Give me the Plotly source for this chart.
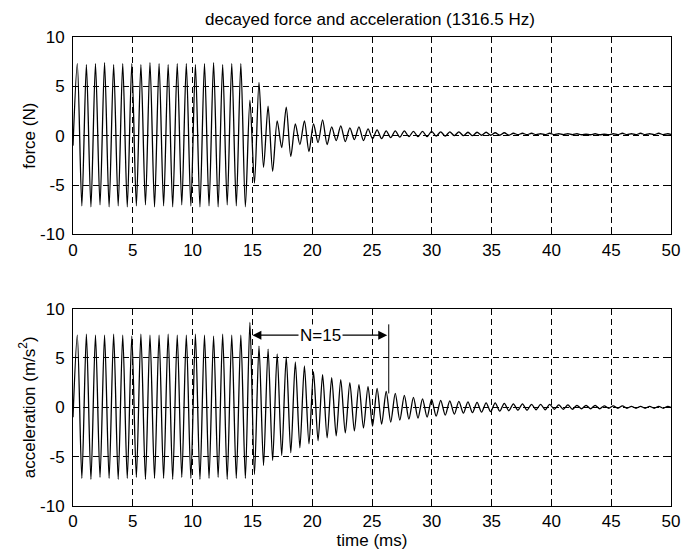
import plotly.graph_objects as go
from plotly.subplots import make_subplots

# ---------------- data ----------------
freq_hz = 1316.5
first_peak_ms = 0.36
start_value_force = -1.0
start_value_accel = -1.0

# positive peaks (one per cycle) and negative peaks (half a cycle later)
force_max = [7.3, 7.2, 7.3, 7.4, 7.2, 7.3, 7.3, 7.2, 7.4, 7.3, 7.2, 7.3, 7.3, 7.2, 7.3, 7.4, 7.2, 7.3, 7.3,
             3.6, 5.4, 3.0, 1.5, 2.9, 1.2, 1.5, 1.2, 1.6, 0.9,
             1.0, 0.8, 0.9, 0.7, 0.6, 0.5, 0.5, 0.5, 0.45, 0.45,
             0.45, 0.4, 0.4, 0.4, 0.35, 0.35, 0.35, 0.3, 0.3, 0.25,
             0.25, 0.25, 0.2, 0.25, 0.2, 0.2, 0.2, 0.15, 0.2, 0.15,
             0.2, 0.25, 0.2, 0.25, 0.2, 0.25, 0.2]
force_min = [-7.1, -7.2, -7.0, -7.2, -7.1, -7.2, -7.1, -7.0, -7.2, -7.1, -7.2, -7.0, -7.1, -7.2, -7.1, -7.2, -7.0, -7.1, -7.2,
             -4.8, -3.2, -3.6, -1.2, -2.1, -0.9, -1.6, -0.7, -0.9, -0.5,
             -0.6, -0.4, -0.5, -0.3, -0.3, -0.2, -0.15, -0.1, -0.1, -0.1,
             -0.05, -0.05, 0.0, 0.0, 0.0, 0.05, 0.05, 0.05, 0.05, 0.1,
             0.1, 0.1, 0.1, 0.1, 0.1, 0.1, 0.1, 0.1, 0.1, 0.1,
             0.1, 0.1, 0.1, 0.1, 0.1, 0.1, 0.1]
accel_max = [7.3, 7.4, 7.3, 7.3, 7.4, 7.3, 7.2, 7.4, 7.3, 7.3, 7.4, 7.3, 7.3, 7.4, 7.3, 7.2, 7.4, 7.3, 7.3,
             8.6, 6.2, 5.9, 5.4, 5.1, 4.6, 4.2, 3.6, 3.3, 3.0,
             2.8, 2.5, 2.3, 2.1, 1.9, 1.6, 1.4, 1.2, 1.0, 0.85,
             0.8, 0.7, 0.65, 0.6, 0.55, 0.5, 0.45, 0.45, 0.4, 0.35,
             0.35, 0.3, 0.3, 0.3, 0.25, 0.25, 0.2, 0.2, 0.2, 0.15,
             0.15, 0.15, 0.1, 0.1, 0.1, 0.1, 0.1]
accel_min = [-7.2, -7.3, -7.1, -7.2, -7.3, -7.2, -7.1, -7.3, -7.2, -7.2, -7.3, -7.1, -7.2, -7.3, -7.2, -7.1, -7.3, -7.2, -7.2,
             -6.8, -5.9, -5.4, -4.9, -4.6, -4.1, -3.7, -3.4, -3.1, -2.9,
             -2.6, -2.4, -2.1, -1.9, -1.7, -1.5, -1.3, -1.2, -1.1, -1.0,
             -0.9, -0.8, -0.7, -0.6, -0.55, -0.5, -0.45, -0.4, -0.35, -0.3,
             -0.3, -0.25, -0.25, -0.2, -0.2, -0.2, -0.15, -0.15, -0.15, -0.1,
             -0.1, -0.1, -0.1, -0.1, -0.1, -0.1, -0.1]

x_ticks = [0, 5, 10, 15, 20, 25, 30, 35, 40, 45, 50]
y_ticks = [-10, -5, 0, 5, 10]

title_text = "decayed force and acceleration (1316.5 Hz)"
force_label = "force (N)"
accel_label = "acceleration (m/s<sup>2</sup>)"
time_label = "time (ms)"

n_label = "N=15"
n_start_ms = 15.0
n_end_ms = 26.4
n_arrow_level = 7.3
n_marker_top = 8.4
n_marker_bottom = 1.4

# ---------------- build traces ----------------
period_ms = 1000.0 / freq_hz


def waveform(maxes, mins, start_val):
    xs, ys = [0.0], [start_val]
    for k, (hi, lo) in enumerate(zip(maxes, mins)):
        xs.append(first_peak_ms + k * period_ms)
        ys.append(hi)
        xs.append(first_peak_ms + (k + 0.5) * period_ms)
        ys.append(lo)
    return xs, ys


fx, fy = waveform(force_max, force_min, start_value_force)
ax_, ay_ = waveform(accel_max, accel_min, start_value_accel)

fig = make_subplots(rows=2, cols=1, vertical_spacing=0.158)
line_style = dict(color="black", width=1.3, shape="spline", smoothing=0.8)
fig.add_trace(go.Scatter(x=fx, y=fy, mode="lines", line=line_style, showlegend=False, hoverinfo="skip"), row=1, col=1)
fig.add_trace(go.Scatter(x=ax_, y=ay_, mode="lines", line=line_style, showlegend=False, hoverinfo="skip"), row=2, col=1)

font_family = "Liberation Sans, Arial, Helvetica, sans-serif"
axis_common = dict(
    showline=True, linecolor="black", linewidth=1, mirror="ticks",
    ticks="inside", ticklen=5, tickcolor="black", automargin=False,
    showgrid=True, gridcolor="black", gridwidth=1, griddash="6px,4px",
    zeroline=False, tickfont=dict(family=font_family, size=17, color="black"),
)

for r in (1, 2):
    fig.update_xaxes(range=[0, 50], tickvals=x_ticks, ticktext=[str(v) for v in x_ticks], row=r, col=1, **axis_common)
    fig.update_yaxes(range=[-10, 10], tickvals=y_ticks, ticktext=[str(v) for v in y_ticks], row=r, col=1,
                     ticklabelstandoff=4, **axis_common)

lab_font = dict(family=font_family, size=17, color="black")
fig.update_yaxes(title=dict(text=force_label, font=lab_font, standoff=0), row=1, col=1)
fig.update_yaxes(title=dict(text=accel_label, font=lab_font, standoff=0), row=2, col=1)
fig.update_xaxes(title=dict(text=time_label, font=lab_font, standoff=2), row=2, col=1)

# N=15 annotation in lower panel
fig.add_annotation(x=n_start_ms, y=n_arrow_level, ax=n_end_ms, ay=n_arrow_level,
                   xref="x2", yref="y2", axref="x2", ayref="y2",
                   text="", showarrow=True, arrowhead=2, arrowsize=1.5, arrowwidth=1.2,
                   arrowside="end+start", arrowcolor="black", startarrowhead=2, startarrowsize=1.5)
fig.add_annotation(x=(n_start_ms + n_end_ms) / 2, y=n_arrow_level, xref="x2", yref="y2",
                   text=n_label, showarrow=False, bgcolor="white",
                   font=dict(family=font_family, size=17, color="black"))
fig.add_shape(type="line", xref="x2", yref="y2", x0=n_end_ms, x1=n_end_ms,
              y0=n_marker_bottom, y1=n_marker_top, line=dict(color="black", width=1))

# the page body adds an 8 px offset; margins compensate so the axes land where the reference has them
fig.update_layout(
    width=692, height=558,
    margin=dict(l=65, r=29, t=29, b=60, autoexpand=False),
    paper_bgcolor="white", plot_bgcolor="white",
    title=dict(text=title_text, x=362 / 692, xanchor="center", y=1 - 11 / 558, yanchor="middle",
               font=dict(family=font_family, size=17, color="black")),
)

fig.write_html("out.html")
